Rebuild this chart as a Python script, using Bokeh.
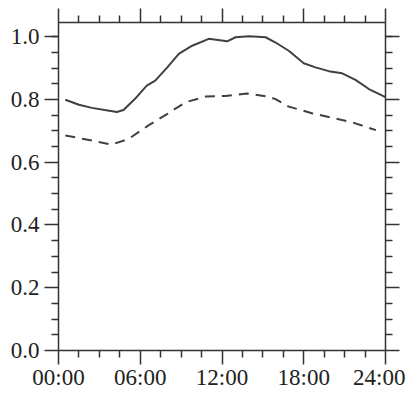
from bokeh.plotting import figure
from bokeh.models import LinearAxis, FixedTicker, Range1d
from bokeh.embed import file_html
from bokeh.resources import INLINE

# Hours of day and normalised values
solid_hours = [0.5, 1.5, 2.45, 3.4, 4.28, 4.77, 5.6, 6.48, 7.1, 8.0, 8.83, 9.81, 11.03,
               12.38, 12.99, 13.97, 15.2, 15.9, 16.9, 18.0, 18.86, 19.84, 20.82, 21.8,
               22.78, 24.0]
solid_vals = [0.799, 0.783, 0.773, 0.766, 0.760, 0.766, 0.801, 0.844, 0.860, 0.903, 0.945,
              0.971, 0.993, 0.985, 0.998, 1.001, 0.998, 0.982, 0.955, 0.915, 0.902, 0.890,
              0.883, 0.862, 0.833, 0.807]

dashed_hours = [0.5, 2.45, 3.9, 5.14, 6.6, 8.0, 9.32, 10.8, 12.26, 13.85, 15.4, 15.93,
                16.9, 18.6, 20.1, 21.56, 23.3]
dashed_vals = [0.685, 0.669, 0.656, 0.674, 0.717, 0.754, 0.791, 0.809, 0.811, 0.819, 0.809,
               0.801, 0.777, 0.756, 0.741, 0.727, 0.702]

x_ticks = [0, 6, 12, 18, 24]
x_tick_labels = ["00:00", "06:00", "12:00", "18:00", "24:00"]
x_minor = [1.5, 3, 4.5, 7.5, 9, 10.5, 13.5, 15, 16.5, 19.5, 21, 22.5]
y_ticks = [0.0, 0.2, 0.4, 0.6, 0.8, 1.0]
y_tick_labels = ["0.0", "0.2", "0.4", "0.6", "0.8", "1.0"]
y_minor = [0.05, 0.1, 0.15, 0.25, 0.3, 0.35, 0.45, 0.5, 0.55, 0.65, 0.7, 0.75, 0.85, 0.9, 0.95, 1.0]

FONT = "Liberation Serif"
AXC = "#333333"
LINEC = "#404040"

p = figure(width=405, height=392, output_backend="svg", toolbar_location=None,
           x_range=Range1d(0, 24), y_range=Range1d(0, 1.045),
           x_axis_location=None, y_axis_location=None,
           min_border_left=58, min_border_right=20, min_border_top=22, min_border_bottom=10)
p.grid.visible = False
p.outline_line_color = None
p.background_fill_color = "white"
p.border_fill_color = "white"

xt = FixedTicker(ticks=x_ticks, minor_ticks=x_minor)
yt = FixedTicker(ticks=y_ticks, minor_ticks=y_minor)


def style(ax, labels):
    ax.axis_line_color = AXC
    ax.axis_line_width = 1.5
    ax.major_tick_line_color = AXC
    ax.minor_tick_line_color = AXC
    ax.major_tick_line_width = 1.5
    ax.minor_tick_line_width = 1.5
    ax.major_tick_out = 14
    ax.major_tick_in = 0
    ax.minor_tick_out = 7
    ax.minor_tick_in = 0
    ax.major_label_text_font = FONT
    ax.major_label_text_font_size = "23px"
    ax.major_label_text_color = "#222222"
    if not labels:
        ax.major_label_standoff = 0


bottom = LinearAxis(ticker=xt, major_label_overrides=dict(zip(x_ticks, x_tick_labels)))
style(bottom, True)
bottom.major_label_standoff = 0
top = LinearAxis(ticker=xt, major_label_overrides={t: "" for t in x_ticks})
style(top, False)
left = LinearAxis(ticker=yt, major_label_overrides=dict(zip(y_ticks, y_tick_labels)))
style(left, True)
left.major_label_standoff = 5
right = LinearAxis(ticker=yt, major_label_overrides={t: "" for t in y_ticks})
style(right, False)

p.add_layout(bottom, "below")
p.add_layout(top, "above")
p.add_layout(left, "left")
p.add_layout(right, "right")

p.line(solid_hours, solid_vals, line_color=LINEC, line_width=2)
p.line(dashed_hours, dashed_vals, line_color=LINEC, line_width=2, line_dash="10 7")

open("out.html", "w").write(file_html(p, INLINE))
